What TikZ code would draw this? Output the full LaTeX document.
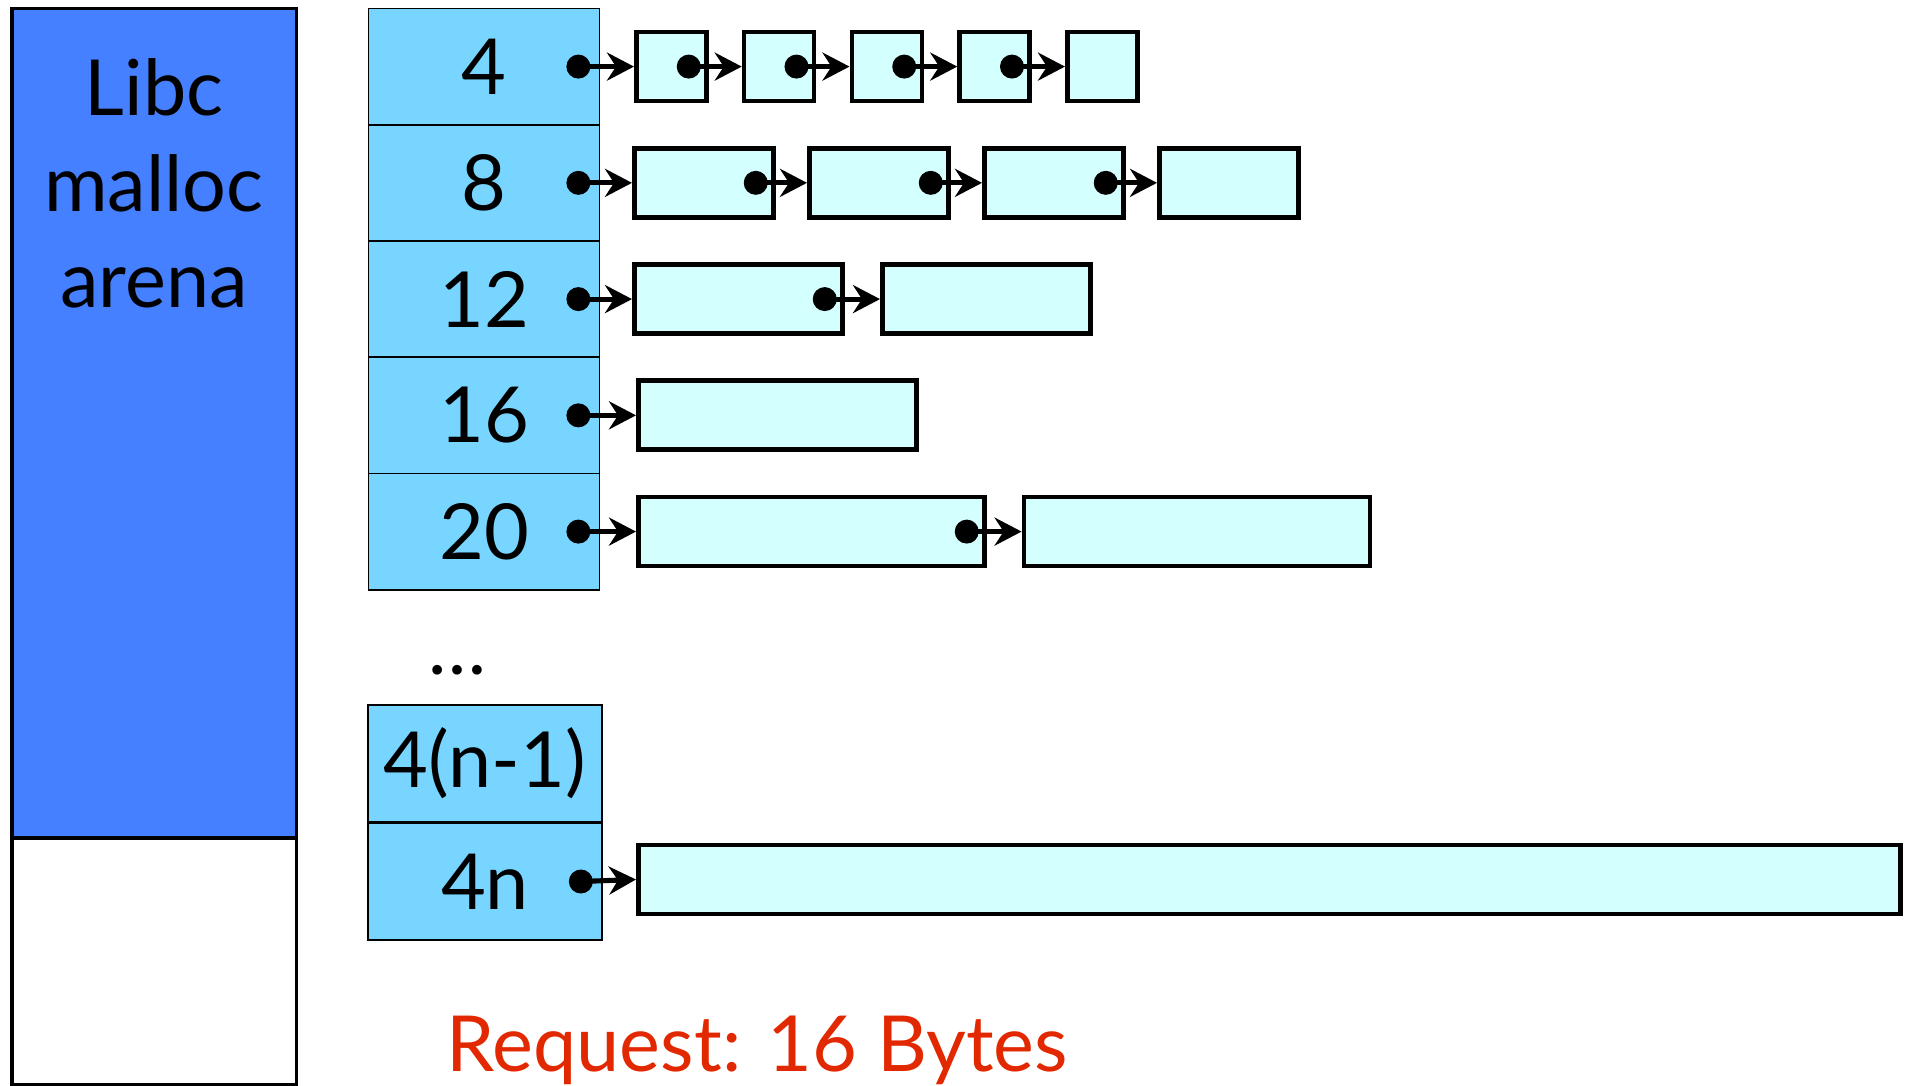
\documentclass[tikz,border=0pt]{standalone}
\usepackage{fontspec}
\setmainfont{Lato}
\usetikzlibrary{arrows.meta,positioning}
\definecolor{arenablue}{HTML}{4480FF}
\definecolor{binblue}{HTML}{77D5FF}
\definecolor{chunkcyan}{HTML}{D4FFFF}
\definecolor{requestred}{HTML}{E22800}
\newcommand\labelfont{\fontsize{22}{27.3}\selectfont}

\tikzset{
  bincell/.style={draw, fill=binblue, line width=0.5pt, minimum width=2.31cm,
    minimum height=1.1625cm, inner sep=0pt, font=\labelfont},
  chunkbox/.style={draw, fill=chunkcyan, line width=1.35pt, minimum height=0.69cm,
    inner sep=0pt, anchor=west},
  ptrdot/.style={circle, fill=black, minimum size=0.24cm, inner sep=0pt},
  ptr/.style={line width=1.45pt, -{Stealth[length=0.27cm,width=0.28cm,inset=0.09cm]}},
}

\begin{document}
\begin{tikzpicture}[y=-1cm]
  \useasboundingbox (0,0) rectangle (19.07,10.86);

  % the arena
  \fill[arenablue] (0.12,0.085) rectangle (2.965,8.38);
  \draw[line width=0.9pt] (0.12,0.085) rectangle (2.965,10.845);
  \draw[line width=0.9pt] (0.12,8.38) -- (2.965,8.38);
  \node[anchor=base, align=center, font=\labelfont] (arena) at (1.54,3.077) {Libc\\malloc\\arena};

  % bins
  \foreach \lab [count=\i] in {4,8,12,16,20}
    \node[bincell] (bin\i) at (4.84,{0.666+(\i-1)*1.1625}) {\lab};
  \node[anchor=base] (dots) at (4.57,6.745) {\labelfont\ldots};
  \node[bincell, minimum width=2.34cm] (binm) at (4.85,7.635) {4(n-1)};
  \node[bincell, minimum width=2.34cm, below=0pt of binm] (binn) {4n};

  % free lists
  \foreach \r/\x/\w/\s/\n in {1/6.34/0.70/1.0775/5, 2/6.32/1.39/1.75/4,
      3/6.32/2.08/2.48/2, 4/6.36/2.78/0/1, 5/6.36/3.46/3.856/2}{
    \node[ptrdot] (p\r) at ([xshift=-0.22cm]bin\r.east) {};
    \foreach \k in {1,...,\n}{
      \node[chunkbox, minimum width=\w cm] (c\r-\k) at ({\x+(\k-1)*\s},{0.666+(\r-1)*1.1625}) {};
      \ifnum\k>1
        \pgfmathtruncatemacro\j{\k-1}
        \node[ptrdot] (q\r-\j) at ([xshift=-0.2cm]c\r-\j.east) {};
        \draw[ptr] (q\r-\j.center) -- (c\r-\k.west);
      \fi
    }
    \draw[ptr] (p\r.center) -- (c\r-1.west);
  }
  \node[ptrdot] (pn) at ([xshift=-0.22cm]binn.east) {};
  \node[chunkbox, minimum width=12.62cm] (cn) at (6.36,8.795) {};
  \draw[ptr] (pn.center) -- (cn.west);

  \node[anchor=base west, inner sep=0pt, text=requestred, font=\labelfont] (request) at (4.46,10.71) {Request: 16 Bytes};
\end{tikzpicture}
\end{document}
